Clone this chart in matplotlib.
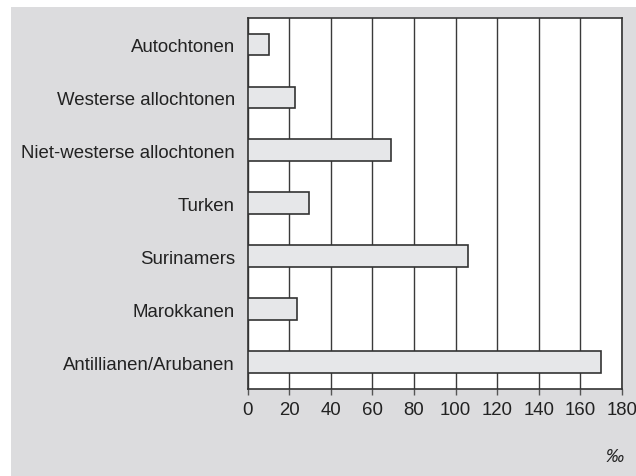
import matplotlib.pyplot as plt
from matplotlib.patches import Rectangle

categories = [
    "Autochtonen",
    "Westerse allochtonen",
    "Niet-westerse allochtonen",
    "Turken",
    "Surinamers",
    "Marokkanen",
    "Antillianen/Arubanen",
]
values = [10.2, 22.7, 69, 29.4, 106.2, 24, 170]
xticks = [0, 20, 40, 60, 80, 100, 120, 140, 160, 180]

plt.rcParams['font.family'] = ['Liberation Sans', 'DejaVu Sans']

fig = plt.figure(figsize=(6.36, 4.77), dpi=100)
fig.patch.set_facecolor('white')
# grey panel behind the chart
fig.patches.append(Rectangle((11 / 636, 0), 1, 1 - 8 / 477,
                             transform=fig.transFigure, facecolor='#dcdcde',
                             edgecolor='none', zorder=-10))

ax = fig.add_axes([247.5 / 636, 1 - 389.5 / 477, (622 - 247.5) / 636, (389.5 - 19) / 477])
ax.set_zorder(1)
ax.set_facecolor('white')

ypos = list(range(len(categories)))
ax.barh(ypos, values, height=0.41, color='#e6e7e9', edgecolor='#333333',
        linewidth=1.2, zorder=3)

ax.set_xlim(0, 180)
ax.set_ylim(len(categories) - 0.5, -0.5)
ax.set_xticks(xticks)
ax.set_yticks(ypos)
ax.set_yticklabels(categories)
ax.xaxis.grid(True, color='#3a3a3a', linewidth=1.0, zorder=1)
ax.set_axisbelow(True)

for s in ax.spines.values():
    s.set_color('#333333')
    s.set_linewidth(1.2)

ax.tick_params(axis='x', length=4, width=1, color='#555555', labelsize=13.4,
               labelcolor='#222222', pad=5)
ax.tick_params(axis='y', length=0, labelsize=13.4, labelcolor='#222222', pad=9)

fig.text(615 / 636, 1 - 458 / 477, '‰', fontsize=13, style='italic',
         color='#222222', ha='center', va='center', zorder=5)

fig.savefig('out.png', dpi=100)
